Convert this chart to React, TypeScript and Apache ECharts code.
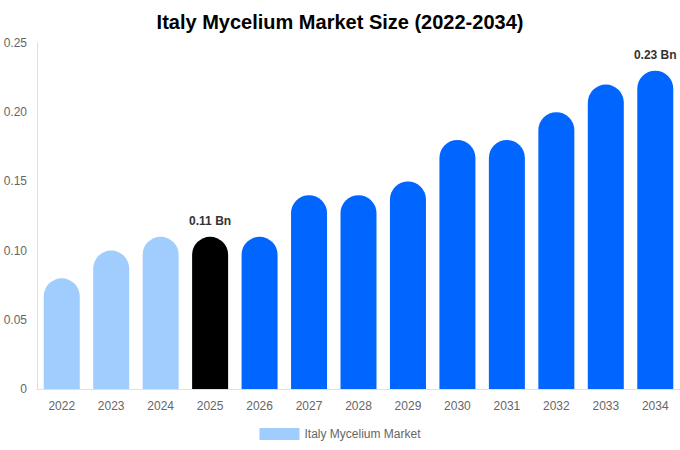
import React, { useEffect, useRef } from "react";
import * as echarts from "echarts";

const categories = ["2022", "2023", "2024", "2025", "2026", "2027", "2028", "2029", "2030", "2031", "2032", "2033", "2034"];
const values = [0.08, 0.1, 0.11, 0.11, 0.11, 0.14, 0.14, 0.15, 0.18, 0.18, 0.2, 0.22, 0.23];
const labelledYears = ["2025", "2034"];
const yTicks = [0, 0.05, 0.1, 0.15, 0.2, 0.25];

const LIGHT = "#A0CDFD";
const BLUE = "#0066FF";
const BLACK = "#000000";
const FONT = "'Liberation Sans', Arial, Helvetica, sans-serif";

export default function App() {
  const ref = useRef<HTMLDivElement>(null);
  useEffect(() => {
    if (!ref.current) return;
    const chart = echarts.init(ref.current, undefined, { renderer: "svg" });
    const data = values.map((v, i) => {
      const year = categories[i];
      const y = Number(year);
      const color = y < 2025 ? LIGHT : y === 2025 ? BLACK : BLUE;
      const show = labelledYears.includes(year);
      return {
        value: v,
        itemStyle: { color, borderRadius: [18, 18, 0, 0] },
        label: {
          show,
          position: "top",
          distance: 10,
          formatter: (p: any) => `${p.value} Bn`,
          fontSize: 12,
          fontWeight: "bold",
          color: "#333",
          fontFamily: FONT,
        },
      };
    });
    chart.setOption({
      animation: false,
      textStyle: { fontFamily: FONT },
      title: {
        text: "Italy Mycelium Market Size (2022-2034)",
        left: "center",
        top: 7,
        textStyle: { fontSize: 20, fontWeight: "bold", color: "#000", fontFamily: FONT },
      },
      legend: {
        bottom: 5,
        left: "center",
        icon: "rect",
        itemWidth: 40,
        itemHeight: 12,
        data: [{ name: "Italy Mycelium Market", itemStyle: { color: LIGHT } }],
        textStyle: { fontSize: 12, color: "#666", fontFamily: FONT },
      },
      grid: { left: 37, right: 0, top: 43, bottom: 61, containLabel: false },
      xAxis: {
        type: "category",
        data: categories,
        axisLine: { lineStyle: { color: "#e0e0e0" } },
        axisTick: { show: false },
        axisLabel: { color: "#666", fontSize: 12, margin: 11, fontFamily: FONT },
      },
      yAxis: {
        type: "value",
        min: 0,
        max: yTicks[yTicks.length - 1],
        interval: 0.05,
        axisLine: { show: true, lineStyle: { color: "#e0e0e0" } },
        axisTick: { show: false },
        splitLine: { show: false },
        axisLabel: {
          color: "#666",
          fontSize: 12,
          margin: 10,
          fontFamily: FONT,
          formatter: (v: number) => (v === 0 ? "0" : v.toFixed(2)),
        },
      },
      series: [
        {
          name: "Italy Mycelium Market",
          type: "bar",
          barWidth: 36,
          data,
        },
      ],
    });
    return () => chart.dispose();
  }, []);
  return (
    <div
      ref={ref}
      style={{ position: "fixed", left: 0, top: 0, width: 680, height: 450, background: "#fff" }}
    />
  );
}
